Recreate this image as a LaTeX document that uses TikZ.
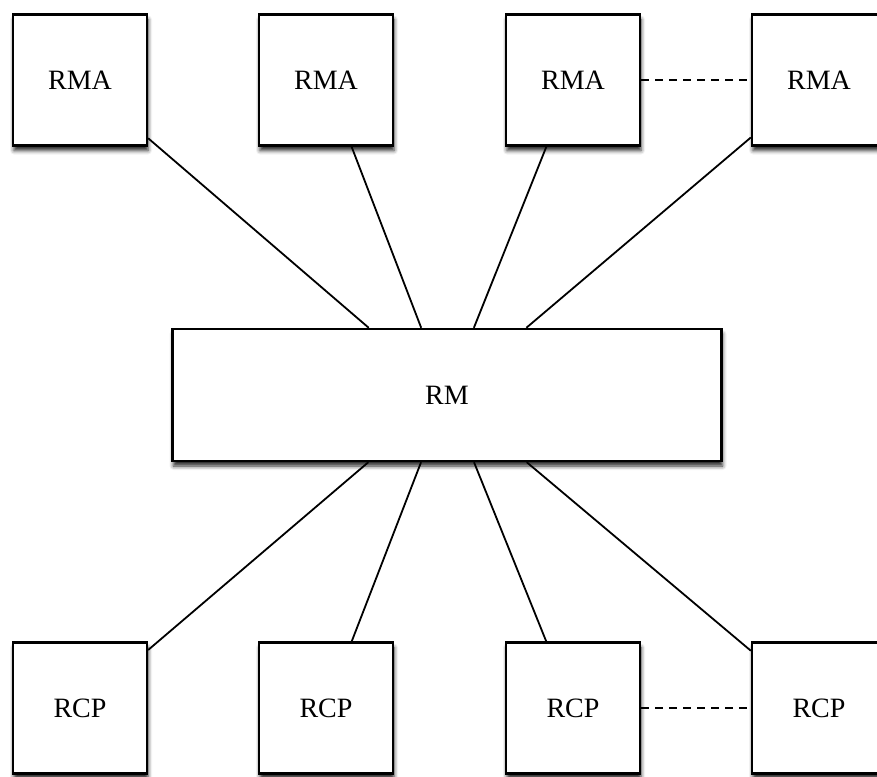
\documentclass[tikz,border=0pt]{standalone}
\usepackage{fontspec}
\setmainfont{Liberation Serif}
\usetikzlibrary{shadows.blur}
\begin{document}
\begin{tikzpicture}[x=1pt,y=-1pt,
  box/.style={draw, line width=2.4pt, fill=white, inner sep=0pt,
    minimum width=134pt, minimum height=131pt,
    font=\fontsize{28}{30}\selectfont,
    blur shadow={shadow xshift=1pt, shadow yshift=-5pt, shadow blur radius=4pt, shadow opacity=85}},
  bigbox/.style={box, minimum width=549pt, minimum height=132pt},
  conn/.style={line width=1.8pt},
  dashconn/.style={line width=2pt, dash pattern=on 8pt off 6pt}]
\useasboundingbox (0,0) rectangle (877,776);
\node[box] (rma1) at (80,80) {RMA};
\node[box] (rma2) at (326,80) {RMA};
\node[box] (rma3) at (573,80) {RMA};
\node[box] (rma4) at (819,80) {RMA};
\node[bigbox] (rm) at (447,395) {RM};
\node[box] (rcp1) at (80,708) {RCP};
\node[box] (rcp2) at (326,708) {RCP};
\node[box] (rcp3) at (573,708) {RCP};
\node[box] (rcp4) at (819,708) {RCP};
\foreach \n in {rma1,rma2,rma3,rma4,rcp1,rcp2,rcp3,rcp4}
  \draw[conn] (\n) -- (rm);
\draw[dashconn] (rma3) -- (rma4);
\draw[dashconn] (rcp3) -- (rcp4);
\end{tikzpicture}
\end{document}
